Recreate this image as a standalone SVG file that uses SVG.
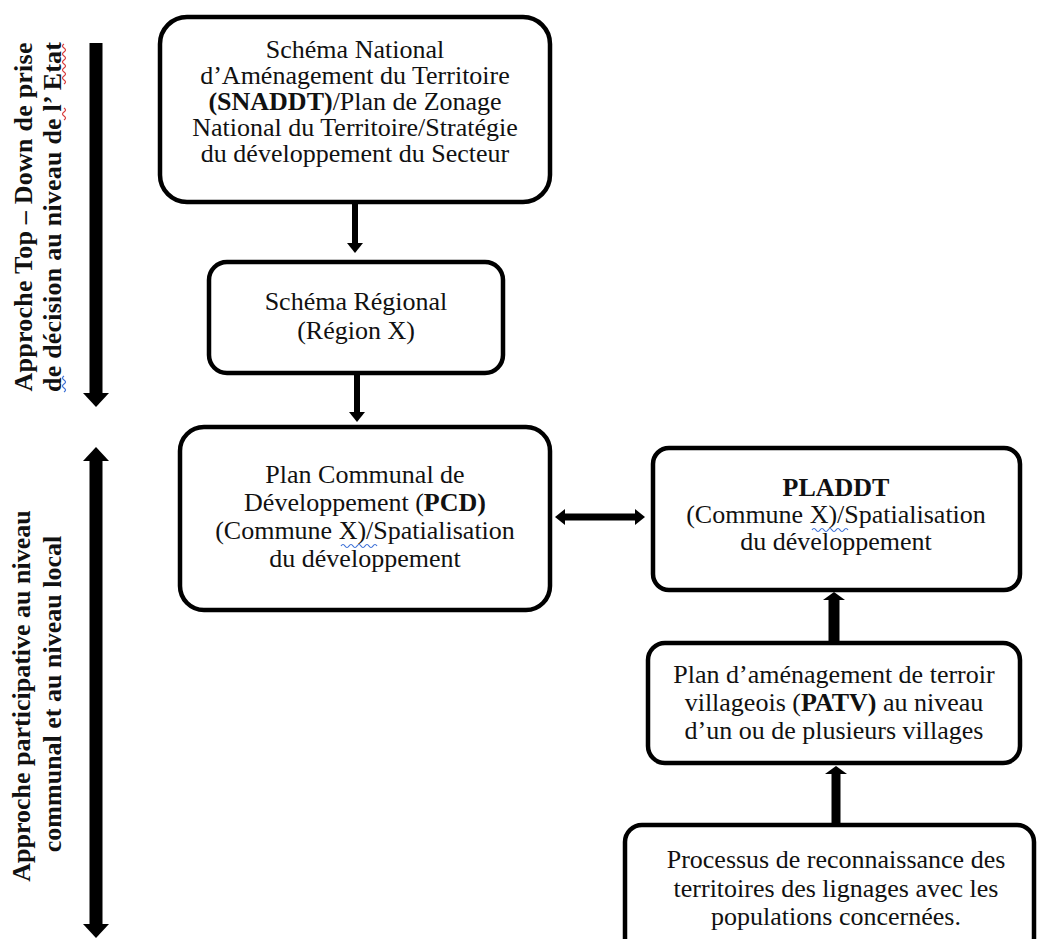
<svg xmlns="http://www.w3.org/2000/svg" width="1038" height="939" viewBox="0 0 1038 939">
<style>
.box{fill:#fff;stroke:#000;stroke-width:4.5}
.t{font-family:"Liberation Serif","Times New Roman",serif;font-size:26px;text-anchor:middle;fill:#111}
.b{font-weight:bold}
.c{stroke:#000;fill:none}
.sq{fill:none;stroke-width:1.2}
.blue{stroke:#3b6fd6}
.red{stroke:#d83b3b}
</style>
<defs>
<marker id="hs" markerUnits="userSpaceOnUse" viewBox="0 0 10 16" markerWidth="10" markerHeight="16" refX="2" refY="8" orient="auto-start-reverse"><path d="M0,0 L10,8 L0,16 Z" fill="#000"/></marker>
<marker id="hm" markerUnits="userSpaceOnUse" viewBox="0 0 8 22" markerWidth="8" markerHeight="22" refX="1" refY="11" orient="auto-start-reverse"><path d="M0,0 L8,11 L0,22 Z" fill="#000"/></marker>
<marker id="hl" markerUnits="userSpaceOnUse" viewBox="0 0 14 26" markerWidth="14" markerHeight="26" refX="2" refY="13" orient="auto-start-reverse"><path d="M0,0 L14,13 L0,26 Z" fill="#000"/></marker>
</defs>
<rect width="1038" height="939" fill="#fff"/>

<g id="axis-top">
<line class="c" x1="96" y1="43" x2="96" y2="395" stroke-width="13" marker-end="url(#hl)"/>
<text class="t b" transform="translate(32,217) rotate(-90)" textLength="349" lengthAdjust="spacing">Approche Top – Down de prise</text>
<text class="t b" transform="translate(61,217) rotate(-90)" textLength="350" lengthAdjust="spacing">de décision au niveau de l’ Etat</text>
<path class="sq blue" d="M64,392 q3,-2 0,-4 t0,-4 t0,-4 t0,-4"/>
<path class="sq red" d="M64,84 q3,-2 0,-4 t0,-4 t0,-4 t0,-4 t0,-4 t0,-4 t0,-4 t0,-4 t0,-4 t0,-4"/>
<path class="sq red" d="M64,120 q3,-2 0,-4 t0,-4 t0,-4"/>
</g>

<g id="axis-bottom">
<line class="c" x1="96" y1="459" x2="96" y2="926" stroke-width="13" marker-start="url(#hl)" marker-end="url(#hl)"/>
<text class="t b" transform="translate(30,696) rotate(-90)">Approche participative au niveau</text>
<text class="t b" transform="translate(61,694) rotate(-90)">communal et au niveau local</text>
</g>

<g id="connectors">
<line class="c" x1="355" y1="202" x2="355" y2="245" stroke-width="6" marker-end="url(#hs)"/>
<line class="c" x1="357" y1="373" x2="357" y2="414" stroke-width="6" marker-end="url(#hs)"/>
<line class="c" x1="563" y1="517" x2="637" y2="517" stroke-width="7" marker-start="url(#hs)" marker-end="url(#hs)"/>
<line class="c" x1="834" y1="642" x2="834" y2="599" stroke-width="11" marker-end="url(#hm)"/>
<line class="c" x1="836" y1="825" x2="836" y2="773" stroke-width="9" marker-end="url(#hm)"/>
</g>

<g id="snaddt">
<rect class="box" x="160" y="17" width="390" height="185" rx="27"/>
<text class="t" x="355" y="58">Schéma National</text>
<text class="t" x="355" y="84">d’Aménagement du Territoire</text>
<text class="t" x="355" y="110"><tspan class="b">(SNADDT)</tspan>/Plan de Zonage</text>
<text class="t" x="355" y="136">National du Territoire/Stratégie</text>
<text class="t" x="355" y="162">du développement du Secteur</text>
</g>

<g id="regional">
<rect class="box" x="209" y="262" width="294" height="111" rx="18"/>
<text class="t" x="356" y="310">Schéma Régional</text>
<text class="t" x="356" y="339">(Région X)</text>
</g>

<g id="pcd">
<rect class="box" x="180" y="427" width="370" height="183" rx="24"/>
<text class="t" x="365" y="483">Plan Communal de</text>
<text class="t" x="365" y="511">Développement (<tspan class="b">PCD)</tspan></text>
<text class="t" x="365" y="539">(Commune X)/Spatialisation</text>
<text class="t" x="365" y="567">du développement</text>
<path class="sq blue" d="M341,546 q2,-3 4,0 t4,0 t4,0 t4,0 t4,0 t4,0 t4,0 t4,0 t4,0"/>
</g>

<g id="pladdt">
<rect class="box" x="653" y="448" width="367" height="142" rx="16"/>
<text class="t b" x="836" y="496">PLADDT</text>
<text class="t" x="836" y="523">(Commune X)/Spatialisation</text>
<text class="t" x="836" y="550">du développement</text>
<path class="sq blue" d="M812,530 q2,-3 4,0 t4,0 t4,0 t4,0 t4,0 t4,0 t4,0 t4,0 t4,0"/>
</g>

<g id="patv">
<rect class="box" x="648" y="643" width="372" height="120" rx="17"/>
<text class="t" x="834" y="683">Plan d’aménagement de terroir</text>
<text class="t" x="834" y="711">villageois (<tspan class="b">PATV)</tspan> au niveau</text>
<text class="t" x="834" y="739">d’un ou de plusieurs villages</text>
</g>

<g id="processus">
<rect class="box" x="625" y="825" width="409" height="130" rx="17"/>
<text class="t" x="836" y="868">Processus de reconnaissance des</text>
<text class="t" x="836" y="897">territoires des lignages avec les</text>
<text class="t" x="836" y="925">populations concernées.</text>
</g>
</svg>
